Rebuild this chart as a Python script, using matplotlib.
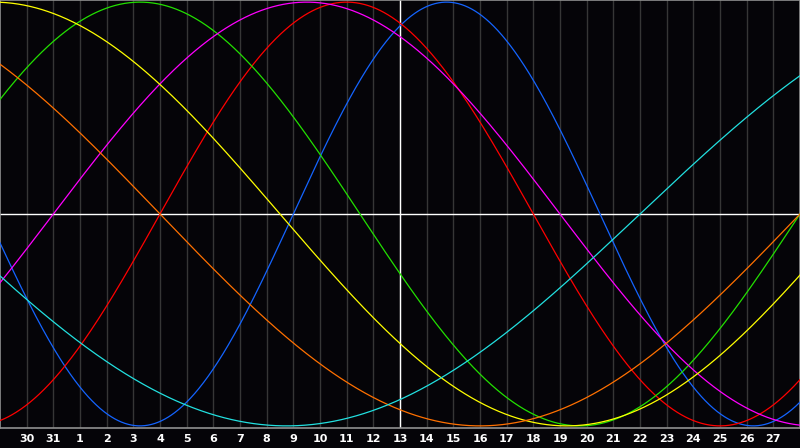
import matplotlib
matplotlib.use("Agg")
import matplotlib.pyplot as plt
import numpy as np

# biorhythm cycles (days) and their colours
cycles = [23, 28, 33, 38, 43, 48, 53]
cycle_colors = ['#1464ff', '#ff0000', '#22e000', '#ff00ff', '#ffff00', '#ff7000', '#22e0e0']
days_alive = 26370  # days since birth at the left edge of the chart
n_days = 30
day_labels = ['30', '31', '1', '2', '3', '4', '5', '6', '7', '8', '9', '10', '11', '12', '13',
              '14', '15', '16', '17', '18', '19', '20', '21', '22', '23', '24', '25', '26', '27']
today = 15

bg = '#050408'
fig = plt.figure(figsize=(8, 4.48), dpi=100, facecolor=bg)
ax = fig.add_axes([0, 20/448, 1, 428/448])
ax.set_facecolor(bg)

# grid
for k in range(1, n_days):
    ax.axvline(k, color='#363636', lw=1, zorder=1)
ax.axvline(today, color='white', lw=1, zorder=2)
ax.axhline(0, color='white', lw=1, zorder=2)

t = np.linspace(0, n_days, 1200)
for p, c in zip(cycles, cycle_colors):
    ax.plot(t, np.sin(2*np.pi*(days_alive + t)/p), color=c, lw=0.9, zorder=3)

ax.set_xlim(0, n_days)
ax.set_ylim(-1.01, 1.01)
ax.set_xticks([])
ax.set_yticks([])
for s in ax.spines.values():
    s.set_color('#909090')
    s.set_linewidth(1.2)

for k, lab in enumerate(day_labels, start=1):
    ax.text(k, -11/428, lab, transform=ax.get_xaxis_transform(), ha='center', va='center',
            color='white', fontsize=8, fontweight='bold', family='DejaVu Sans', clip_on=False)

fig.savefig('out.png', dpi=100, facecolor=bg)
